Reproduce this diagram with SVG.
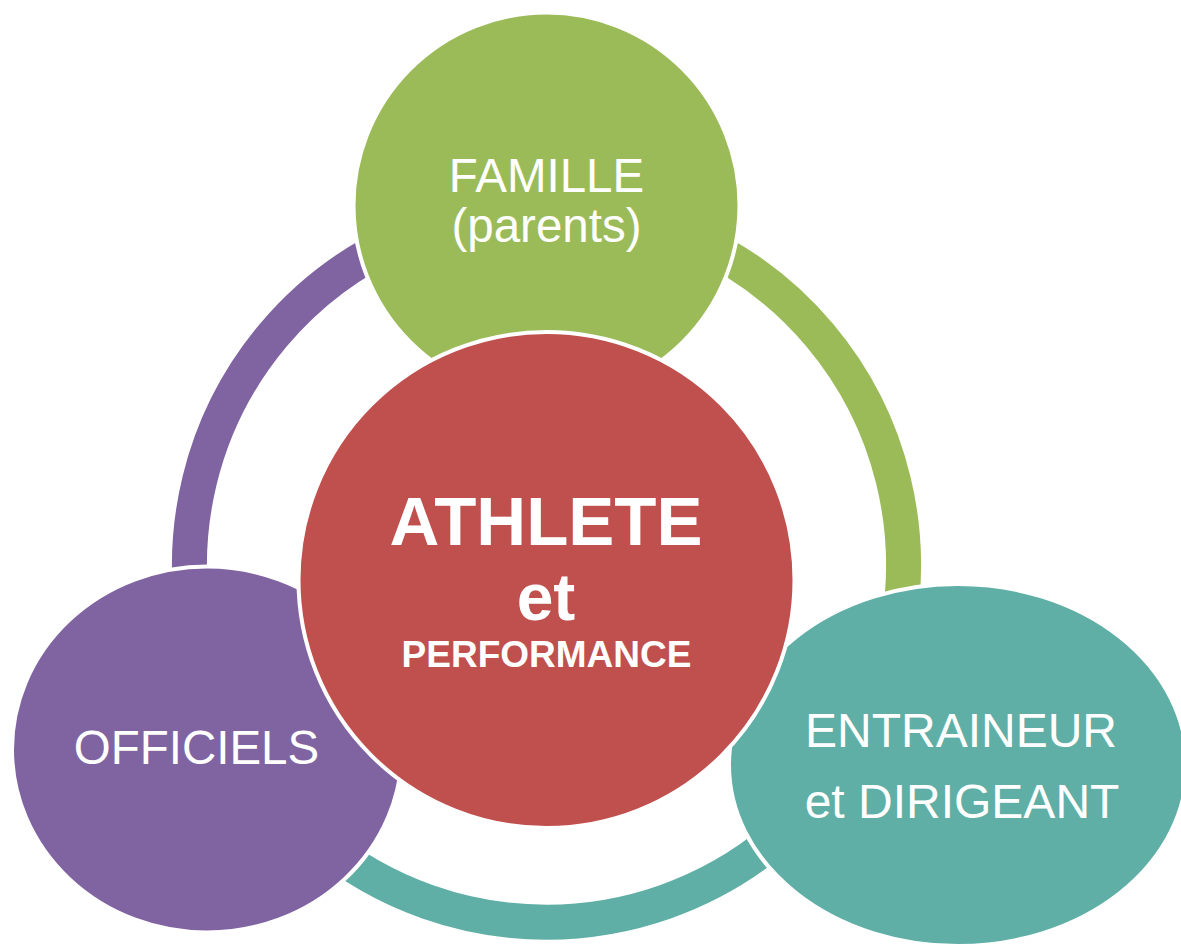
<svg xmlns="http://www.w3.org/2000/svg" width="1181" height="946" viewBox="0 0 1181 946">
  <style>
    .ring { fill: none; stroke-width: 35; stroke-linecap: butt; }
    .node { stroke: #FFFFFF; stroke-width: 4; }
    .lbl { font-family: "Liberation Sans", Arial, sans-serif; fill: #FFFFFF; text-anchor: middle; }
    .big { font-weight: bold; }
  </style>
  <rect width="1181" height="946" fill="#FFFFFF"/>
  <g id="connectors">
    <path class="ring" stroke="#8064A2" d="M 194.9 627 A 357 357 0 0 1 546.5 208"/>
    <path class="ring" stroke="#9BBB59" d="M 546.5 208 A 357 357 0 0 1 898.1 627"/>
    <path class="ring" stroke="#5FAFA6" d="M 898.1 627 A 357 357 0 0 1 194.9 627"/>
  </g>
  <g id="famille">
    <circle class="node" cx="546.5" cy="205.5" r="193" fill="#9BBB59"/>
    <text class="lbl" x="546.5" y="192" font-size="47.5">FAMILLE</text>
    <text class="lbl" x="546.5" y="242" font-size="47.5">(parents)</text>
  </g>
  <g id="officiels">
    <ellipse class="node" cx="207" cy="749.5" rx="195" ry="183" fill="#8064A2"/>
    <text class="lbl" x="196.5" y="764" font-size="47.5">OFFICIELS</text>
  </g>
  <g id="entraineur">
    <ellipse class="node" cx="958" cy="765" rx="229" ry="181" fill="#5FAFA6"/>
    <text class="lbl" x="961" y="747" font-size="48">ENTRAINEUR</text>
    <text class="lbl" x="962" y="818" font-size="48">et DIRIGEANT</text>
  </g>
  <g id="athlete">
    <circle class="node" cx="546.5" cy="580" r="248" fill="#C0504D"/>
    <text class="lbl big" x="546" y="545" font-size="69">ATHLETE</text>
    <text class="lbl big" x="546" y="620" font-size="66">et</text>
    <text class="lbl big" x="546.5" y="667" font-size="37">PERFORMANCE</text>
  </g>
</svg>
